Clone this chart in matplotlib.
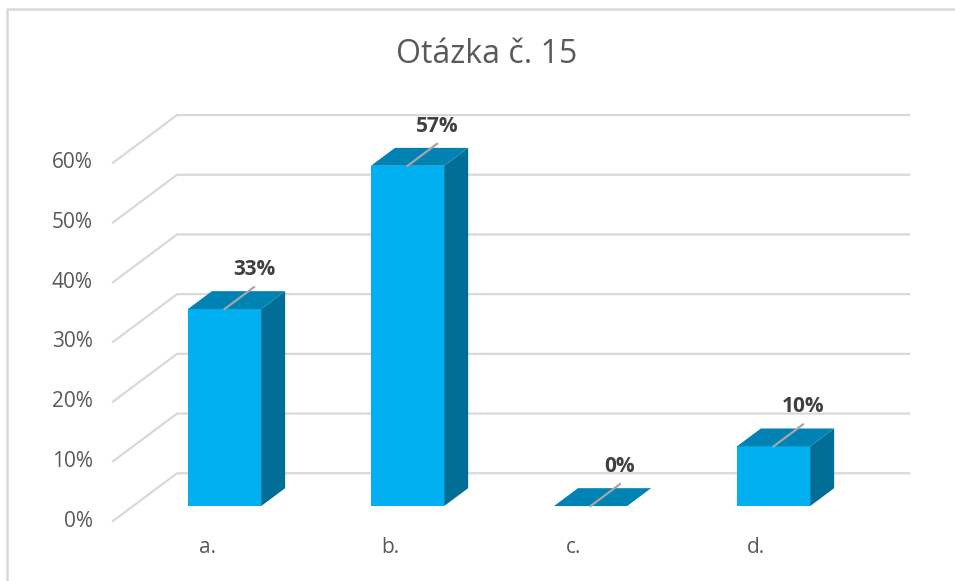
import matplotlib.pyplot as plt
from matplotlib.patches import Polygon

plt.rcParams['font.family'] = ['Open Sans', 'DejaVu Sans']

# Data
categories = ['a.', 'b.', 'c.', 'd.']
values = [33, 57, 0, 10]
ticks = [0, 10, 20, 30, 40, 50, 60]
title = 'Otázka č. 15'

# colours of the pseudo-3D bars
c_front = '#00B0F0'
c_top = '#0083B3'
c_side = '#006E96'
c_grid = '#d9d9d9'

# depth of the floor, in data units (x: categories, y: percent)
DX, DY = 0.35, 8.0
d0, d1 = 0.3125, 0.6875   # bar front/back depth fractions
bw = 0.4                   # bar width

fig = plt.figure(figsize=(9.55, 5.81), dpi=100)
ax = fig.add_axes([0, 0, 1, 1])
ax.set_xlim(-1.1175, 4.101)
ax.set_ylim(-10.05, 87.27)
ax.axis('off')

x_left, x_right = -0.5, len(categories) - 0.5

# gridlines: diagonal on the left side wall + horizontal on the back wall
for t in ticks:
    ax.plot([x_left, x_left + DX, x_right + DX], [t, t + DY, t + DY],
            color=c_grid, lw=1.6, zorder=1, solid_joinstyle='miter')
    ax.text(x_left - 0.11, t, f'{t}%', ha='right', va='center',
            fontsize=15, color='#595959')

# bars
for i, v in enumerate(values):
    ox, oy = DX * d0, DY * d0
    bx, by = DX * (d1 - d0), DY * (d1 - d0)
    x0 = i - bw / 2 + ox
    x1 = i + bw / 2 + ox
    y0 = oy
    y1 = oy + v
    # side face
    ax.add_patch(Polygon([(x1, y0), (x1 + bx, y0 + by), (x1 + bx, y1 + by), (x1, y1)],
                         closed=True, facecolor=c_side, edgecolor='none', zorder=3))
    # front face
    if v > 0:
        ax.add_patch(Polygon([(x0, y0), (x1, y0), (x1, y1), (x0, y1)],
                             closed=True, facecolor=c_front, edgecolor='none', zorder=4))
    # top face
    ax.add_patch(Polygon([(x0, y1), (x1, y1), (x1 + bx, y1 + by), (x0 + bx, y1 + by)],
                         closed=True, facecolor=c_top, edgecolor='none', zorder=4))
    # leader line and data label
    lx0, ly0 = i + ox, y1
    lx1, ly1 = lx0 + DX * 0.46, ly0 + DY * 0.46
    ax.plot([lx0, lx1], [ly0, ly1], color='#a6a6a6', lw=1.6, zorder=5)
    ax.text(lx1, ly1 + 1.2, f'{v}%', ha='center', va='bottom',
            fontsize=15, fontweight='bold', color='#404040', zorder=6)
    # category label
    ax.text(i + 0.015, -4.5, categories[i], ha='center', va='center',
            fontsize=15, color='#595959')

# title
fig.text(0.51, 0.907, title, ha='center', va='center', fontsize=23, color='#595959')

# chart border (top and left visible)
fig.add_artist(plt.Line2D([7 / 955, 7 / 955, 1], [0, 1 - 9 / 581, 1 - 9 / 581],
                          color=c_grid, lw=1.8))

fig.savefig('out.png', dpi=100)
